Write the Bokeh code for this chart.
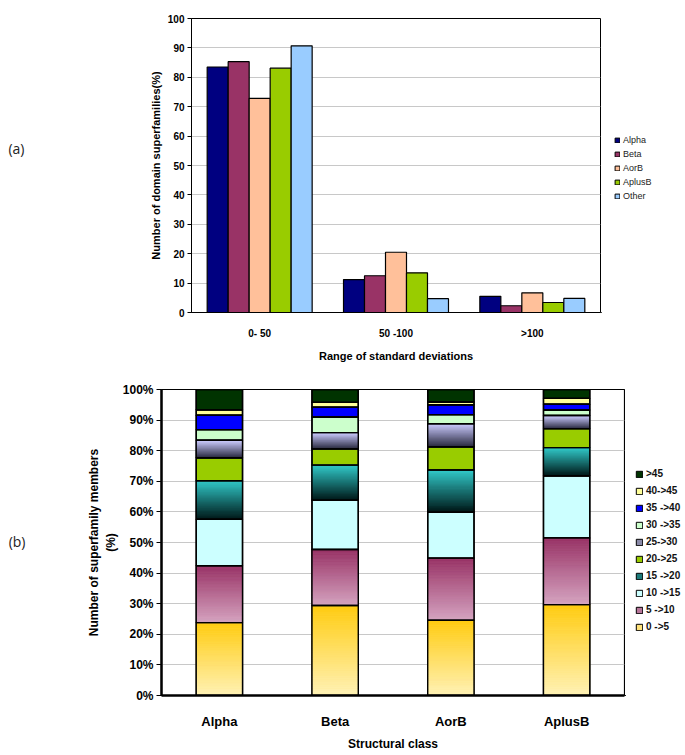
from bokeh.plotting import figure
from bokeh.layouts import row
from bokeh.models import (FactorRange, Range1d, Legend, LegendItem, LinearAxis,
                          PrintfTickFormatter, FixedTicker, ColumnDataSource)
from bokeh.transform import dodge
from bokeh.embed import file_html
from bokeh.resources import INLINE

# ---------------- data: panel (a) ----------------
sd_ranges = ["0- 50", "50 -100", ">100"]
series_a = ["Alpha", "Beta", "AorB", "AplusB", "Other"]
alpha_a = [83.5, 11.2, 5.5]
beta_a = [85.3, 12.5, 2.3]
aorb_a = [72.8, 20.5, 6.7]
aplusb_a = [83.1, 13.5, 3.4]
other_a = [90.7, 4.7, 4.8]
y_ticks_a = list(range(0, 101, 10))

# ---------------- data: panel (b) ----------------
struct_classes = ["Alpha", "Beta", "AorB", "AplusB"]
bins_b = ["0 ->5", "5 ->10", "10 ->15", "15 ->20", "20->25",
          "25->30", "30 ->35", "35 ->40", "40->45", ">45"]
alpha_b = [23.8, 18.6, 15.2, 12.6, 7.5, 5.7, 3.5, 4.7, 1.8, 6.6]
beta_b = [29.4, 18.3, 16.1, 11.5, 5.3, 5.3, 5.1, 3.2, 1.6, 4.2]
aorb_b = [24.6, 20.3, 15.0, 13.8, 7.6, 7.5, 3.0, 3.2, 0.9, 4.1]
aplusb_b = [29.7, 21.8, 20.3, 9.2, 6.2, 4.3, 1.8, 1.9, 1.9, 2.9]
y_ticks_b = list(range(0, 101, 10))

# panel tags and where they sit on each value axis
tag_a, tag_a_at = "(a)", 55.8
tag_b, tag_b_at = "(b)", 50.3

# ---------------- styles ----------------
FONT = "Liberation Sans"
colors_a = ["#000080", "#993366", "#FFC09A", "#99CC00", "#99CCFF"]
legend_colors_b = ["#FFE27A", "#B8769A", "#CCFFFF", "#1C7A7A", "#99CC00",
                   "#8A8AA8", "#CCFFCC", "#0000FF", "#FFFF99", "#003300"]
# (top colour, bottom colour) for gradient segments
gradients_b = {0: ("#FFCC11", "#FFF2B8"),
               1: ("#993366", "#D6A6C2"),
               3: ("#33CCCC", "#001414"),
               5: ("#CCCCFF", "#26263A")}


def hex2rgb(h):
    h = h.lstrip("#")
    return tuple(int(h[i:i + 2], 16) for i in (0, 2, 4))


def mix(c1, c2, t):
    a, b = hex2rgb(c1), hex2rgb(c2)
    return "#%02x%02x%02x" % tuple(int(round(a[i] + (b[i] - a[i]) * t)) for i in range(3))


def tag_axis(text, at, standoff):
    return LinearAxis(ticker=FixedTicker(ticks=[at]),
                      major_label_overrides={at: text},
                      axis_line_color=None, major_tick_line_color=None,
                      minor_tick_line_color=None, major_tick_out=0,
                      major_label_standoff=standoff,
                      major_label_text_font="Open Sans",
                      major_label_text_font_size="14px",
                      major_label_text_color="#222222")


def legend_panel(width, height, top, bottom):
    lf = figure(width=width, height=height, x_axis_type=None, y_axis_type=None,
                x_range=Range1d(0, 1), y_range=Range1d(0, 1),
                output_backend="svg", toolbar_location=None,
                min_border_left=0, min_border_right=0,
                min_border_top=top, min_border_bottom=bottom)
    lf.outline_line_color = None
    return lf


def swatch(lf, color):
    # a key swatch renderer kept outside the (empty) legend panel's view
    return lf.vbar(x=[-5], top=[-5], bottom=[-6], width=0.1,
                   fill_color=color, line_color="black", line_width=1)


# ================= panel (a) =================
p1 = figure(width=601, height=364, x_range=FactorRange(*sd_ranges),
            y_range=Range1d(0, 100), output_backend="svg", toolbar_location=None,
            min_border_left=191, min_border_right=1, min_border_top=18,
            min_border_bottom=47)
p1.x_range.range_padding = 0
src_a = ColumnDataSource(dict(cat=sd_ranges, Alpha=alpha_a, Beta=beta_a,
                              AorB=aorb_a, AplusB=aplusb_a, Other=other_a))
bw = 0.154
for k, (name, col) in enumerate(zip(series_a, colors_a)):
    p1.vbar(x=dodge("cat", (k - 2) * bw, range=p1.x_range), top=name, width=bw,
            source=src_a, fill_color=col, line_color="black", line_width=1.2)

p1.outline_line_color = "black"
p1.outline_line_width = 1
p1.xgrid.grid_line_color = None
p1.ygrid.grid_line_color = "#c8c8c8"
p1.yaxis.ticker = FixedTicker(ticks=y_ticks_a)
p1.yaxis.minor_tick_line_color = None
p1.yaxis.major_tick_out = 4
p1.yaxis.major_tick_in = 0
p1.yaxis.major_label_standoff = 3
p1.yaxis.axis_label = "Number of domain superfamilies(%)"
p1.yaxis.axis_label_standoff = 3
p1.xaxis.axis_label = "Range of standard deviations"
p1.xaxis.major_tick_line_color = None
p1.xaxis.major_label_standoff = 9
p1.xaxis.axis_label_standoff = 8
for ax in (p1.xaxis[0], p1.yaxis[0]):
    ax.axis_line_color = "black"
    ax.major_label_text_font = FONT
    ax.major_label_text_font_style = "bold"
    ax.major_label_text_font_size = "10px"
    ax.major_label_text_color = "black"
    ax.axis_label_text_font = FONT
    ax.axis_label_text_font_style = "bold"
    ax.axis_label_text_font_size = "11px"
    ax.axis_label_text_color = "black"
p1.add_layout(tag_axis(tag_a, tag_a_at, 122), "left")

# legend for (a) in its own narrow panel
lf1 = legend_panel(84, 364, 18, 47)
items_a = [LegendItem(label=name, renderers=[swatch(lf1, col)])
           for name, col in zip(series_a, colors_a)]
lf1.add_layout(Legend(items=items_a, location=(13, 111),
                      glyph_width=6, glyph_height=6, label_height=11, spacing=3,
                      padding=3, label_standoff=3, label_text_font=FONT,
                      label_text_font_size="9px", label_text_color="#222222",
                      border_line_color=None, background_fill_alpha=0))

# ================= panel (b) =================
p2 = figure(width=625, height=389, x_range=FactorRange(*struct_classes),
            y_range=Range1d(0, 100), output_backend="svg", toolbar_location=None,
            min_border_left=161, min_border_right=1, min_border_top=25,
            min_border_bottom=50)
p2.x_range.range_padding = 0
data_b = {"cls": struct_classes}
per_class = [alpha_b, beta_b, aorb_b, aplusb_b]
for j, b in enumerate(bins_b):
    data_b[b] = [vals[j] for vals in per_class]
src_b = ColumnDataSource(data_b)
barw = 0.4

p2.vbar_stack(bins_b, x="cls", width=barw, source=src_b,
              fill_color=legend_colors_b, line_color="black", line_width=1.4)

# gradient strips built from the stacked data
gx, gb, gt, gc = [], [], [], []
NSTRIP = 40
for ci, vals in enumerate(per_class):
    base = 0.0
    for j, v in enumerate(vals):
        if j in gradients_b:
            top_c, bot_c = gradients_b[j]
            for k in range(NSTRIP):
                gx.append(struct_classes[ci])
                gb.append(base + v * k / NSTRIP)
                gt.append(base + v * (k + 1) / NSTRIP)
                gc.append(mix(bot_c, top_c, (k + 0.5) / NSTRIP))
        base += v
p2.vbar(x=gx, bottom=gb, top=gt, width=barw, fill_color=gc, line_color=gc,
        line_width=0.6)
# outlines on top
p2.vbar_stack(bins_b, x="cls", width=barw, source=src_b, fill_alpha=0,
              line_color="black", line_width=1.4)

p2.outline_line_color = "black"
p2.outline_line_width = 1.2
p2.xgrid.grid_line_color = None
p2.ygrid.grid_line_color = "#c8c8c8"
p2.yaxis.ticker = FixedTicker(ticks=y_ticks_b)
p2.yaxis.formatter = PrintfTickFormatter(format="%d%%")
p2.yaxis.minor_tick_line_color = None
p2.yaxis.major_tick_out = 5
p2.yaxis.major_tick_in = 0
p2.yaxis.major_label_standoff = 3
p2.yaxis.axis_label = "Number of superfamily members\n(%)"
p2.yaxis.axis_label_standoff = 2
p2.xaxis.axis_label = "Structural class"
p2.xaxis.major_tick_line_color = None
p2.xaxis.major_label_standoff = 12
p2.xaxis.axis_label_standoff = 5
for ax in (p2.xaxis[0], p2.yaxis[0]):
    ax.axis_line_color = "black"
    ax.axis_line_width = 2.5
    ax.major_label_text_font = FONT
    ax.major_label_text_font_style = "bold"
    ax.major_label_text_font_size = "12px"
    ax.major_label_text_color = "black"
    ax.axis_label_text_font = FONT
    ax.axis_label_text_font_style = "bold"
    ax.axis_label_text_font_size = "12px"
    ax.axis_label_text_color = "black"
p2.xaxis.major_label_text_font_size = "13px"
p2.add_layout(tag_axis(tag_b, tag_b_at, 59), "left")

# legend for (b) in its own narrow panel
lf2 = legend_panel(60, 389, 25, 50)
items_b = [LegendItem(label=name, renderers=[swatch(lf2, col)])
           for name, col in zip(bins_b, legend_colors_b)]
lf2.add_layout(Legend(items=items_b[::-1], location=(10, 61),
                      glyph_width=8, glyph_height=8, label_height=15, spacing=2,
                      padding=2, label_standoff=3, label_text_font=FONT,
                      label_text_font_style="bold", label_text_font_size="10px",
                      label_text_color="#111111", border_line_color=None,
                      background_fill_alpha=0))

row_a = row(p1, lf1, spacing=0)
row_b = row(p2, lf2, spacing=0)
open("out.html", "w").write(file_html([row_a, row_b], INLINE))
